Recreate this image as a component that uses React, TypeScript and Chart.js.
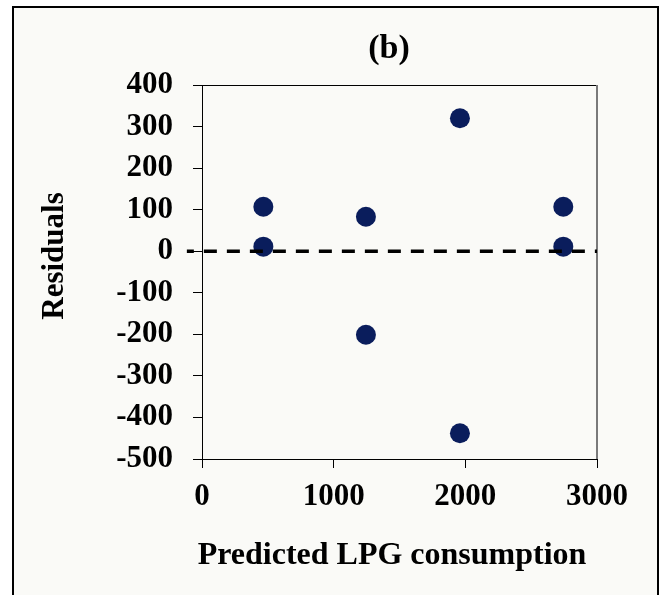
import React, { useEffect, useRef } from "react";
import { Chart, registerables } from "chart.js";

Chart.register(...registerables);

// ---- data ----
const predicted = [466, 466, 1245, 1245, 1959, 1959, 2744, 2744];
const residuals = [107, 11, 83, -201, 320, -438, 107, 11];
const zeroLineX = [-115, 3000];
const zeroLineY = [0, 0];
const xTickValues = [0, 1000, 2000, 3000];
const yTickValues = [-500, -400, -300, -200, -100, 0, 100, 200, 300, 400];
const chartTitle = "(b)";
const xAxisTitle = "Predicted LPG consumption";
const yAxisTitle = "Residuals";

const FONT = "'Liberation Serif', 'Times New Roman', serif";

const framePlugin = {
  id: "frameAndTexts",
  beforeDatasetsDraw(chart: any) {
    const { ctx, chartArea } = chart;
    ctx.save();
    ctx.strokeStyle = "#000";
    ctx.lineWidth = 1;
    ctx.beginPath();
    ctx.moveTo(chartArea.left, chartArea.top + 0.5);
    ctx.lineTo(chartArea.right, chartArea.top + 0.5);
    ctx.stroke();
    ctx.strokeStyle = "#7a7a7a";
    ctx.lineWidth = 2;
    ctx.beginPath();
    ctx.moveTo(chartArea.right, chartArea.top);
    ctx.lineTo(chartArea.right, chartArea.bottom);
    ctx.stroke();
    ctx.restore();
  },
  afterDraw(chart: any) {
    const { ctx } = chart;
    ctx.save();
    ctx.fillStyle = "#000";
    ctx.textAlign = "center";
    ctx.textBaseline = "alphabetic";
    ctx.font = `bold 34px ${FONT}`;
    ctx.fillText(chartTitle, 389, 58);
    ctx.font = `bold 32px ${FONT}`;
    ctx.fillText(xAxisTitle, 392, 564);
    ctx.font = `bold 31px ${FONT}`;
    ctx.translate(63, 256);
    ctx.rotate(-Math.PI / 2);
    ctx.fillText(yAxisTitle, 0, 0);
    ctx.restore();
  },
};

export default function App() {
  const ref = useRef<HTMLCanvasElement>(null);
  useEffect(() => {
    if (!ref.current) return;
    const chart = new Chart(ref.current, {
      type: "scatter",
      data: {
        datasets: [
          {
            label: "zero",
            type: "line",
            data: zeroLineX.map((x, i) => ({ x, y: zeroLineY[i] })),
            borderColor: "#000",
            borderWidth: 3.5,
            borderDash: [13, 10],
            borderDashOffset: 6,
            pointRadius: 0,
            fill: false,
            clip: false as any,
            order: 0,
          } as any,
          {
            label: "Residuals",
            data: predicted.map((x, i) => ({ x, y: residuals[i] })),
            backgroundColor: "#0a1d5c",
            borderColor: "#0a1d5c",
            pointRadius: 10,
            pointHoverRadius: 10,
            borderWidth: 0,
            order: 1,
          },
        ],
      },
      options: {
        responsive: false,
        animation: false,
        layout: { padding: { top: 85, right: 66, left: 0, bottom: 0 } },
        plugins: {
          legend: { display: false },
          title: { display: false },
          tooltip: { enabled: false },
        },
        scales: {
          x: {
            type: "linear",
            min: 0,
            max: 3000,
            afterBuildTicks: (s: any) => {
              s.ticks = xTickValues.map((v) => ({ value: v }));
            },
            afterFit: (s: any) => {
              s.height = 136;
            },
            ticks: {
              color: "#000",
              padding: 10,
              maxRotation: 0,
              font: { family: FONT, size: 31, weight: "bold" },
              callback: (v: any) => String(v),
            },
            grid: {
              drawOnChartArea: false,
              drawTicks: true,
              tickLength: 9,
              color: "#000",
              lineWidth: 1,
            },
            border: { display: true, color: "#000", width: 1 },
          },
          y: {
            type: "linear",
            min: -500,
            max: 400,
            afterBuildTicks: (s: any) => {
              s.ticks = yTickValues.map((v) => ({ value: v }));
            },
            afterFit: (s: any) => {
              s.width = 202;
            },
            ticks: {
              color: "#000",
              padding: 20,
              font: { family: FONT, size: 31, weight: "bold" },
              callback: (v: any) => String(v),
            },
            grid: {
              drawOnChartArea: false,
              drawTicks: true,
              tickLength: 9,
              color: "#000",
              lineWidth: 1,
            },
            border: { display: true, color: "#000", width: 1 },
          },
        },
      } as any,
      plugins: [framePlugin],
    });
    return () => chart.destroy();
  }, []);

  return (
    <div
      style={{
        position: "fixed",
        left: 0,
        top: 0,
        width: 663,
        height: 595,
        background: "#ffffff",
        overflow: "hidden",
      }}
    >
      <div
        style={{
          position: "absolute",
          left: 12,
          top: 6,
          width: 647,
          height: 610,
          border: "2px solid #000",
          background: "#fafaf7",
          boxSizing: "border-box",
        }}
      />
      <canvas
        ref={ref}
        width={663}
        height={595}
        style={{ position: "absolute", left: 0, top: 0, width: 663, height: 595 }}
      />
    </div>
  );
}
